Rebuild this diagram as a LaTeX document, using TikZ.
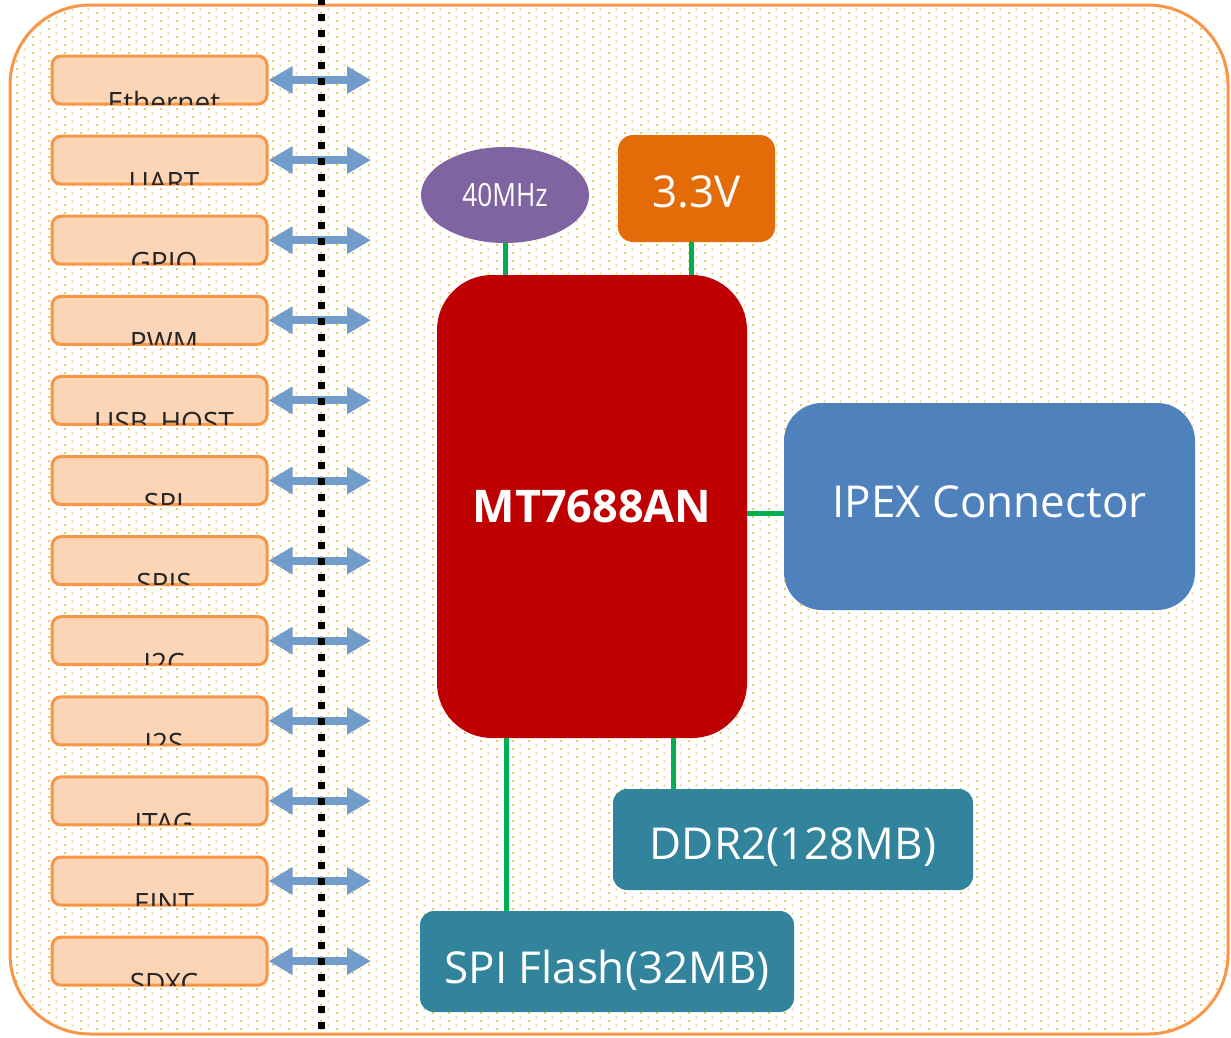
\documentclass[tikz,border=0pt]{standalone}
\usepackage{fontspec}
\setmainfont{Open Sans}
\usetikzlibrary{arrows.meta,patterns,calc,shapes.geometric}
\pgfdeclarepatternformonly{stagdots}{\pgfpointorigin}{\pgfpoint{16pt}{8pt}}{\pgfpoint{16pt}{8pt}}{%
  \pgfpathrectangle{\pgfpoint{0pt}{0pt}}{\pgfpoint{2pt}{2pt}}%
  \pgfpathrectangle{\pgfpoint{8pt}{4pt}}{\pgfpoint{2pt}{2pt}}%
  \pgfusepath{fill}}
\definecolor{bord}{HTML}{F79646}
\definecolor{iofill}{HTML}{FBD5B5}
\definecolor{dotc}{HTML}{F4C766}
\definecolor{arrc}{HTML}{729CC9}
\definecolor{clkc}{HTML}{8064A2}
\definecolor{pwrc}{HTML}{E36C09}
\definecolor{mtc}{HTML}{BF0000}
\definecolor{ipexc}{HTML}{4F81BD}
\definecolor{memc}{HTML}{31849B}
\definecolor{wirec}{HTML}{00B050}
\begin{document}
\begin{tikzpicture}[x=1pt,y=-1pt,
  iobox/.style={draw=bord,fill=iofill,line width=3pt,rounded corners=9pt,minimum width=215pt,minimum height=48pt,inner sep=0pt},
  iolabel/.style={anchor=base,inner sep=0pt,font=\fontsize{28}{30}\selectfont,text=black!85},
  dblarrow/.style={arrc,line width=8pt,{Triangle[length=24pt,width=26pt]}-{Triangle[length=24pt,width=26pt]}},
  block/.style={inner sep=0pt,text=white,text depth=0pt,font=\fontsize{44}{50}\selectfont},
  wire/.style={wirec,line width=5pt}]
\useasboundingbox (0,0) rectangle (1231,1037);
% background
\fill[white,rounded corners=80pt] (10,5) rectangle (1228,1034);
\fill[pattern=stagdots,pattern color=dotc,rounded corners=80pt] (10,5) rectangle (1228,1034);
\draw[bord,line width=3pt,rounded corners=80pt] (10,5) rectangle (1228,1034);
% left interface boxes
\foreach \i/\t in {0/Ethernet,1/UART,2/GPIO,3/PWM,4/USB\_HOST,5/SPI,6/SPIS,7/I2C,8/I2S,9/JTAG,10/EINT,11/SDXC}{
  \node[iobox] (io\i) at (159.5,{80+80.1*\i}) {};
  \begin{scope}
    \clip[rounded corners=7.5pt] ($(io\i.north west)+(1.5,1.5)$) rectangle ($(io\i.south east)+(-1.5,-1.5)$);
    \node[iolabel] (lab\i) at ($(io\i.south)+(4.5,7)$) {\t};
  \end{scope}
  \coordinate (ae\i) at (371,{80+80.1*\i});
  \draw[dblarrow] (io\i.east) -- (ae\i);
}
% dotted separator
\coordinate (dtop) at (321,-2);
\coordinate (dbot) at (321,1040);
\draw[black,line width=7pt,dash pattern=on 7pt off 9pt] (dtop) -- (dbot);
% main blocks
\node[block,ellipse,fill=clkc,minimum width=168pt,minimum height=96pt,text height=22pt] (clk) at (505,195) {\scalebox{0.82}[1]{\fontsize{32}{34}\selectfont 40MHz}};
\node[block,fill=pwrc,rounded corners=15pt,minimum width=157pt,minimum height=107pt,text height=37pt] (pwr) at (696.5,188.5) {3.3V};
\node[block,fill=mtc,rounded corners=55pt,minimum width=310pt,minimum height=463pt,text height=32pt,font=\fontsize{45}{50}\selectfont\bfseries] (mt) at (592,506.5) {MT7688AN};
\node[block,fill=ipexc,rounded corners=38pt,minimum width=411pt,minimum height=207pt,text height=22pt] (ipex) at (989.5,506.5) {IPEX Connector};
\node[block,fill=memc,rounded corners=14pt,minimum width=360pt,minimum height=101pt,text height=40pt] (ddr) at (793,839.5) {DDR2(128MB)};
\node[block,fill=memc,rounded corners=14pt,minimum width=374pt,minimum height=101pt,text height=44pt] (spi) at (607,961.5) {SPI Flash(32MB)};
% wires
\draw[wire] (clk.south) -- (clk.south |- mt.north);
\draw[wire] ([xshift=-5.5pt]pwr.south) -- ([xshift=-5.5pt]pwr.south |- mt.north);
\draw[wire] ([yshift=-6.5pt]mt.east) -- ([yshift=-6.5pt]mt.east -| ipex.west);
\draw[wire] ([xshift=-120pt]ddr.north) -- ([xshift=-120pt]ddr.north |- mt.south);
\draw[wire] ([xshift=-101pt]spi.north) -- ([xshift=-101pt]spi.north |- mt.south);
\end{tikzpicture}
\end{document}
